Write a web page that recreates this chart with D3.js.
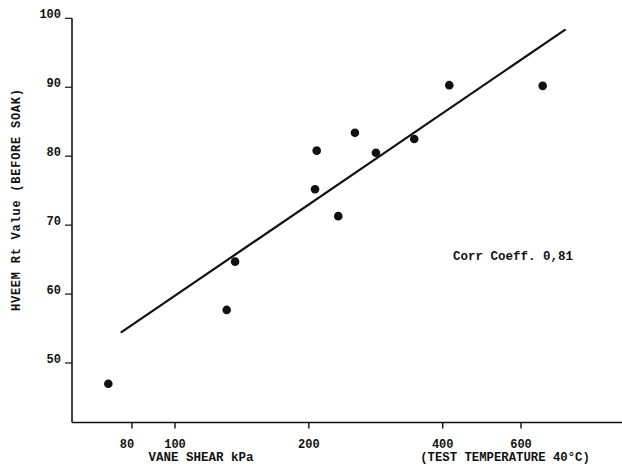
<!DOCTYPE html>
<html><head><meta charset="utf-8">
<script src="https://cdn.jsdelivr.net/npm/d3@7"></script>
<style>
body{margin:0;background:#fff;}
text{font-family:"Liberation Mono","Courier New",monospace;fill:#111;}
</style></head>
<body><svg id="c" width="622" height="464"></svg>
<script>
const vaneShear = [70.8, 130.7, 136.5, 206.5, 208.3, 232.9, 253.9, 283.1, 345.2, 413.9, 671.3];
const hveemRt   = [47.0, 57.7, 64.7, 75.2, 80.8, 71.3, 83.4, 80.5, 82.5, 90.3, 90.2];
const fitX = [75.5, 756];
const fitY = [54.4, 98.4];
const xTicks = [80, 100, 200, 400, 600];
const yTicks = [50, 60, 70, 80, 90, 100];
const xTitle = "VANE SHEAR kPa";
const xNote = "(TEST TEMPERATURE 40°C)";
const yTitle = "HVEEM Rt Value (BEFORE SOAK)";
const corrText = "Corr Coeff. 0,81";

const svg = d3.select("#c");
const x = d3.scaleLog().domain([100, 400]).range([175, 442.7]);
const y = d3.scaleLinear().domain([50, 100]).range([363, 18.3]);
const x0 = 72, yB = 422.5;

const ink = "#111";
// axes lines
svg.append("line").attr("x1", x0).attr("x2", 622).attr("y1", yB).attr("y2", yB)
  .attr("stroke", ink).attr("stroke-width", 1.6);
svg.append("line").attr("x1", x0).attr("x2", x0).attr("y1", y(100)).attr("y2", yB)
  .attr("stroke", ink).attr("stroke-width", 1.6);

// x ticks
const gx = svg.append("g");
xTicks.forEach(t => {
  gx.append("line").attr("x1", x(t)).attr("x2", x(t)).attr("y1", yB).attr("y2", yB + 6)
    .attr("stroke", ink).attr("stroke-width", 1.4);
  gx.append("text").attr("x", x(t) + (t === 80 ? -5 : 0)).attr("y", yB + 25).attr("text-anchor", "middle")
    .attr("font-size", 12).attr("font-weight", "bold").text(t);
});
// y ticks
const gy = svg.append("g");
yTicks.forEach(t => {
  gy.append("line").attr("x1", x0 - 7).attr("x2", x0).attr("y1", y(t)).attr("y2", y(t))
    .attr("stroke", ink).attr("stroke-width", 1.2);
  gy.append("text").attr("x", 61).attr("y", y(t)).attr("text-anchor", "end")
    .attr("font-size", 12).attr("font-weight", "bold").text(t);
});

// titles
svg.append("text").attr("x", 201).attr("y", 461).attr("text-anchor", "middle")
  .attr("font-size", 12.5).attr("font-weight", "bold").text(xTitle);
svg.append("text").attr("x", 505).attr("y", 461).attr("text-anchor", "middle")
  .attr("font-size", 12.3).attr("font-weight", "bold").text(xNote);
svg.append("text").attr("transform", "translate(20,200) rotate(-90)").attr("text-anchor", "middle")
  .attr("font-size", 12).attr("font-weight", "bold")
  .attr("textLength", 222).attr("lengthAdjust", "spacing").text(yTitle);
svg.append("text").attr("x", 453).attr("y", 260)
  .attr("font-size", 12.5).attr("font-weight", "bold").text(corrText);

// fit line
svg.append("line").attr("x1", x(fitX[0])).attr("y1", y(fitY[0]))
  .attr("x2", x(fitX[1])).attr("y2", y(fitY[1]))
  .attr("stroke", ink).attr("stroke-width", 2.2);

// points
svg.append("g").selectAll("circle").data(vaneShear).join("circle")
  .attr("cx", d => x(d)).attr("cy", (d, i) => y(hveemRt[i])).attr("r", 4.3).attr("fill", ink);
</script></body></html>
